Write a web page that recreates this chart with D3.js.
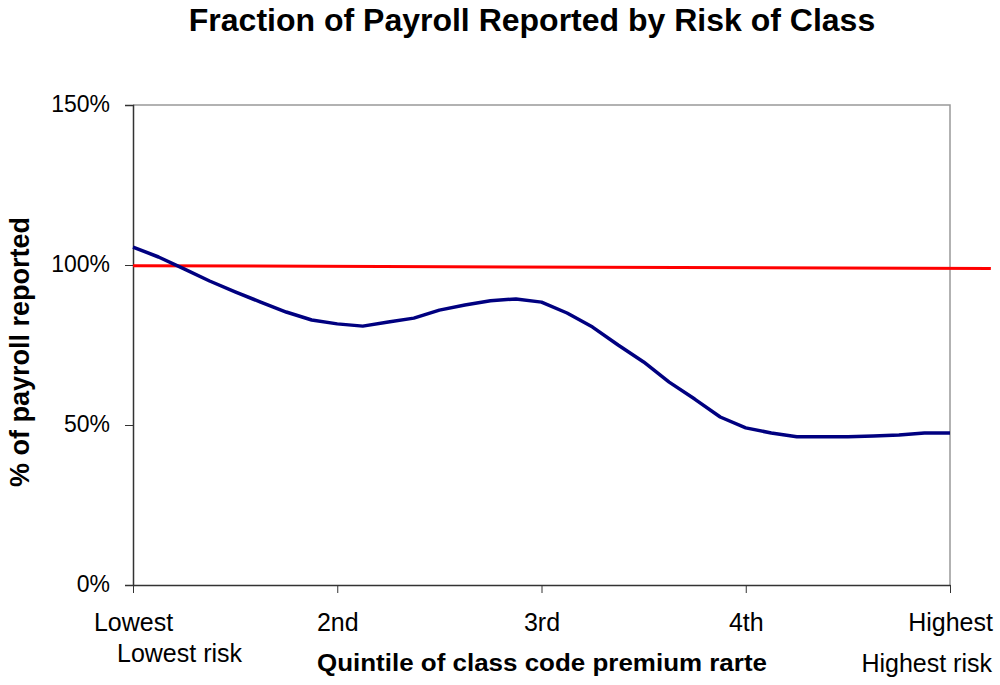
<!DOCTYPE html>
<html>
<head>
    <script src="https://d3js.org/d3.v7.min.js"></script>
    <style>
        body { margin: 0; background: #fff; }
        text { font-family: "Liberation Sans", Arial, sans-serif; }
    </style>
</head>
<body>
    <svg width="1000" height="685"></svg>

    <script>
        // Quintile categories along the x axis
        const quintiles = ["Lowest", "2nd", "3rd", "4th", "Highest"];
        // Payroll reported (%), sampled every 1/8 of a quintile
        const reported = [
            105.6, 102.5, 98.8, 95.0, 91.6, 88.4, 85.3, 82.8,
            81.6, 80.9, 82.2, 83.4, 85.9, 87.5, 88.8, 89.4,
            88.4, 85.0, 80.6, 75.0, 69.7, 63.4, 58.1, 52.5,
            49.1, 47.5, 46.3, 46.3, 46.3, 46.6, 46.9, 47.5,
            47.5
        ];
        // Reference line (full reporting), end points in quintile units
        const refX = [0, 4.2];
        const refY = [99.8, 98.9];
        const yTicks = [0, 50, 100, 150];

        const svg = d3.select("svg");
        const plotL = 133, plotR = 950, plotT = 105, plotB = 585;

        const x = d3.scaleLinear().domain([0, 4]).range([plotL, plotR]);
        const y = d3.scaleLinear().domain([0, 150]).range([plotB, plotT]);

        // Title
        svg.append("text")
            .attr("x", 532).attr("y", 31)
            .attr("text-anchor", "middle")
            .attr("font-size", "32px").attr("font-weight", "bold")
            .text("Fraction of Payroll Reported by Risk of Class");

        // Frame: light top and right edges
        svg.append("path")
            .attr("d", `M${plotL},${plotT}H${plotR}V${plotB}`)
            .attr("fill", "none").attr("stroke", "#999").attr("stroke-width", 1.5);

        // Y axis
        const yAxis = svg.append("g")
            .attr("transform", `translate(${plotL},0)`)
            .call(d3.axisLeft(y).tickValues(yTicks).tickSize(8).tickPadding(15)
                .tickFormat(d => d + "%"));
        yAxis.select(".domain").attr("stroke", "#333").attr("stroke-width", 1.5);
        yAxis.selectAll("line").attr("stroke", "#333");
        yAxis.selectAll("text").attr("font-size", "23px").attr("fill", "#000")
            .attr("font-family", "Liberation Sans, Arial, sans-serif").attr("dy", "0.3em");

        // X axis
        const xAxis = svg.append("g")
            .attr("transform", `translate(0,${plotB})`)
            .call(d3.axisBottom(x).tickValues(d3.range(quintiles.length)).tickSize(8)
                .tickSizeOuter(0).tickPadding(20).tickFormat(i => quintiles[i]));
        xAxis.select(".domain").attr("stroke", "#333").attr("stroke-width", 1.5);
        xAxis.selectAll("line").attr("stroke", "#333");
        xAxis.selectAll("text").attr("font-size", "25px").attr("fill", "#000")
            .attr("font-family", "Liberation Sans, Arial, sans-serif");

        // Extra x labels under the ends
        svg.append("text")
            .attr("x", 117).attr("y", 662)
            .attr("font-size", "25px")
            .text("Lowest risk");
        svg.append("text")
            .attr("x", 992).attr("y", 672)
            .attr("text-anchor", "end").attr("font-size", "25px")
            .text("Highest risk");

        // Axis titles
        svg.append("text")
            .attr("x", 317).attr("y", 671)
            .attr("font-size", "23px").attr("font-weight", "bold")
            .attr("textLength", 450).attr("lengthAdjust", "spacingAndGlyphs")
            .text("Quintile of class code premium rarte");
        svg.append("text")
            .attr("transform", `translate(29,352) rotate(-90)`)
            .attr("text-anchor", "middle")
            .attr("font-size", "27px").attr("font-weight", "bold")
            .text("% of payroll reported");

        // Red reference line
        svg.append("path")
            .datum(refX.map((v, i) => [v, refY[i]]))
            .attr("fill", "none").attr("stroke", "#ff0000").attr("stroke-width", 3)
            .attr("d", d3.line().x(d => x(d[0])).y(d => y(d[1])));

        // Blue data line
        svg.append("path")
            .datum(reported)
            .attr("fill", "none").attr("stroke", "#000080").attr("stroke-width", 3.5)
            .attr("stroke-linejoin", "round")
            .attr("d", d3.line().x((d, i) => x(i / 8)).y(d => y(d)));
    </script>
</body>
</html>
